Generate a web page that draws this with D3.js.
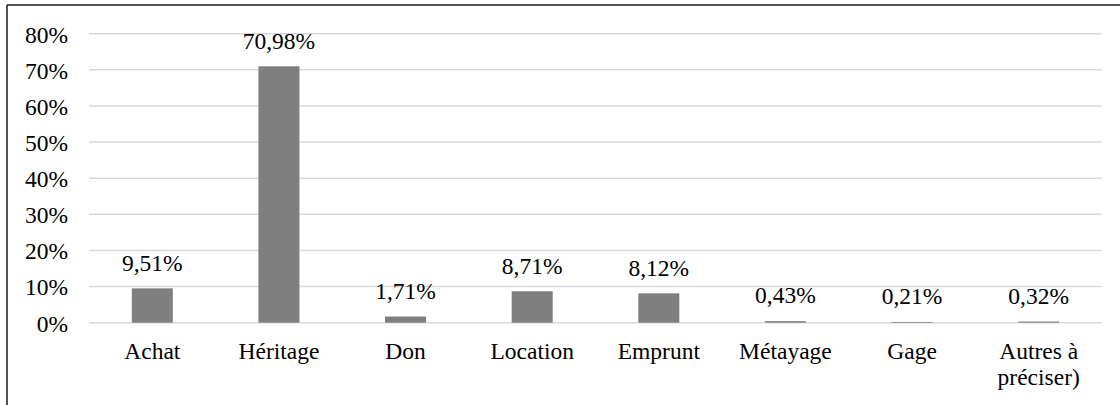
<!DOCTYPE html>
<html>
<head>
<meta charset="utf-8">
<script src="https://cdn.jsdelivr.net/npm/d3@7"></script>
<style>
  body { margin: 0; background: #fff; }
  #chart { position: relative; width: 1120px; height: 405px; }
  #chart svg { position: absolute; left: 0; top: 0; }
  .lbl {
    position: absolute;
    font-family: 'Liberation Serif';
    font-size: 23.5px;
    line-height: 1;
    white-space: nowrap;
    color: #000;
  }
  .cat { line-height: 26px; text-align: center; }
</style>
</head>
<body>
<div id="chart"></div>
<script>
// data
var categories = ["Achat", "Héritage", "Don", "Location", "Emprunt", "Métayage", "Gage", "Autres à|préciser)"];
var values = [9.51, 70.98, 1.71, 8.71, 8.12, 0.43, 0.21, 0.32];
var yTicks = [0, 10, 20, 30, 40, 50, 60, 70, 80];

var width = 1120, height = 405;
var baseOffset = 19.7;   // top of a line-height:1 box to its baseline

var chart = d3.select("#chart");

var svg = chart
  .append("svg")
  .attr("width", width)
  .attr("height", height);

// frame (top and left edge visible)
svg.append("line")
  .attr("x1", 7).attr("y1", 5).attr("x2", width).attr("y2", 5)
  .style("stroke", "#1a1a1a").style("stroke-width", 1.5);
svg.append("line")
  .attr("x1", 7).attr("y1", 5).attr("x2", 7).attr("y2", height)
  .style("stroke", "#1a1a1a").style("stroke-width", 1.5);

var x = d3.scaleBand()
  .domain(categories)
  .range([89, 1102])
  .paddingInner(0.676)
  .paddingOuter(0.338);

var y = d3.scaleLinear()
  .domain([0, 80])
  .range([322.7, 33.7]);

// gridlines
svg.append("g")
  .selectAll("line")
  .data(yTicks)
  .enter()
  .append("line")
    .attr("x1", 89)
    .attr("x2", 1102)
    .attr("y1", function(d) { return y(d); })
    .attr("y2", function(d) { return y(d); })
    .style("stroke", "#d9d9d9")
    .style("stroke-width", 1.5);

var rows = categories.map(function(c, i) { return {cat: c, val: values[i]}; });

// bars
svg.append("g")
  .selectAll("rect")
  .data(rows)
  .enter()
  .append("rect")
    .attr("x", function(d) { return x(d.cat); })
    .attr("width", x.bandwidth())
    .attr("y", function(d) { return y(d.val); })
    .attr("height", function(d) { return y(0) - y(d.val); })
    .style("fill", "#7f7f7f");

// y tick labels (html text so the serif font is used)
chart.selectAll("div.tick")
  .data(yTicks)
  .enter()
  .append("div")
    .attr("class", "lbl tick")
    .style("left", "68px")
    .style("top", function(d) { return (y(d) + 9.5 - baseOffset) + "px"; })
    .style("transform", "translateX(-100%)")
    .text(function(d) { return d + "%"; });

// value labels
chart.selectAll("div.val")
  .data(rows)
  .enter()
  .append("div")
    .attr("class", "lbl val")
    .style("left", function(d) { return (x(d.cat) + x.bandwidth() / 2) + "px"; })
    .style("top", function(d) { return (y(d.val) - 17 - baseOffset) + "px"; })
    .style("transform", "translateX(-50%)")
    .text(function(d) { return d3.format(".2f")(d.val).replace(".", ",") + "%"; });

// category labels (| splits lines)
chart.selectAll("div.cat")
  .data(rows)
  .enter()
  .append("div")
    .attr("class", "lbl cat")
    .style("left", function(d) { return (x(d.cat) + x.bandwidth() / 2) + "px"; })
    .style("top", (359 - 21) + "px")
    .style("transform", "translateX(-50%)")
    .html(function(d) { return d.cat.split("|").join("<br>"); });
</script>
</body>
</html>
